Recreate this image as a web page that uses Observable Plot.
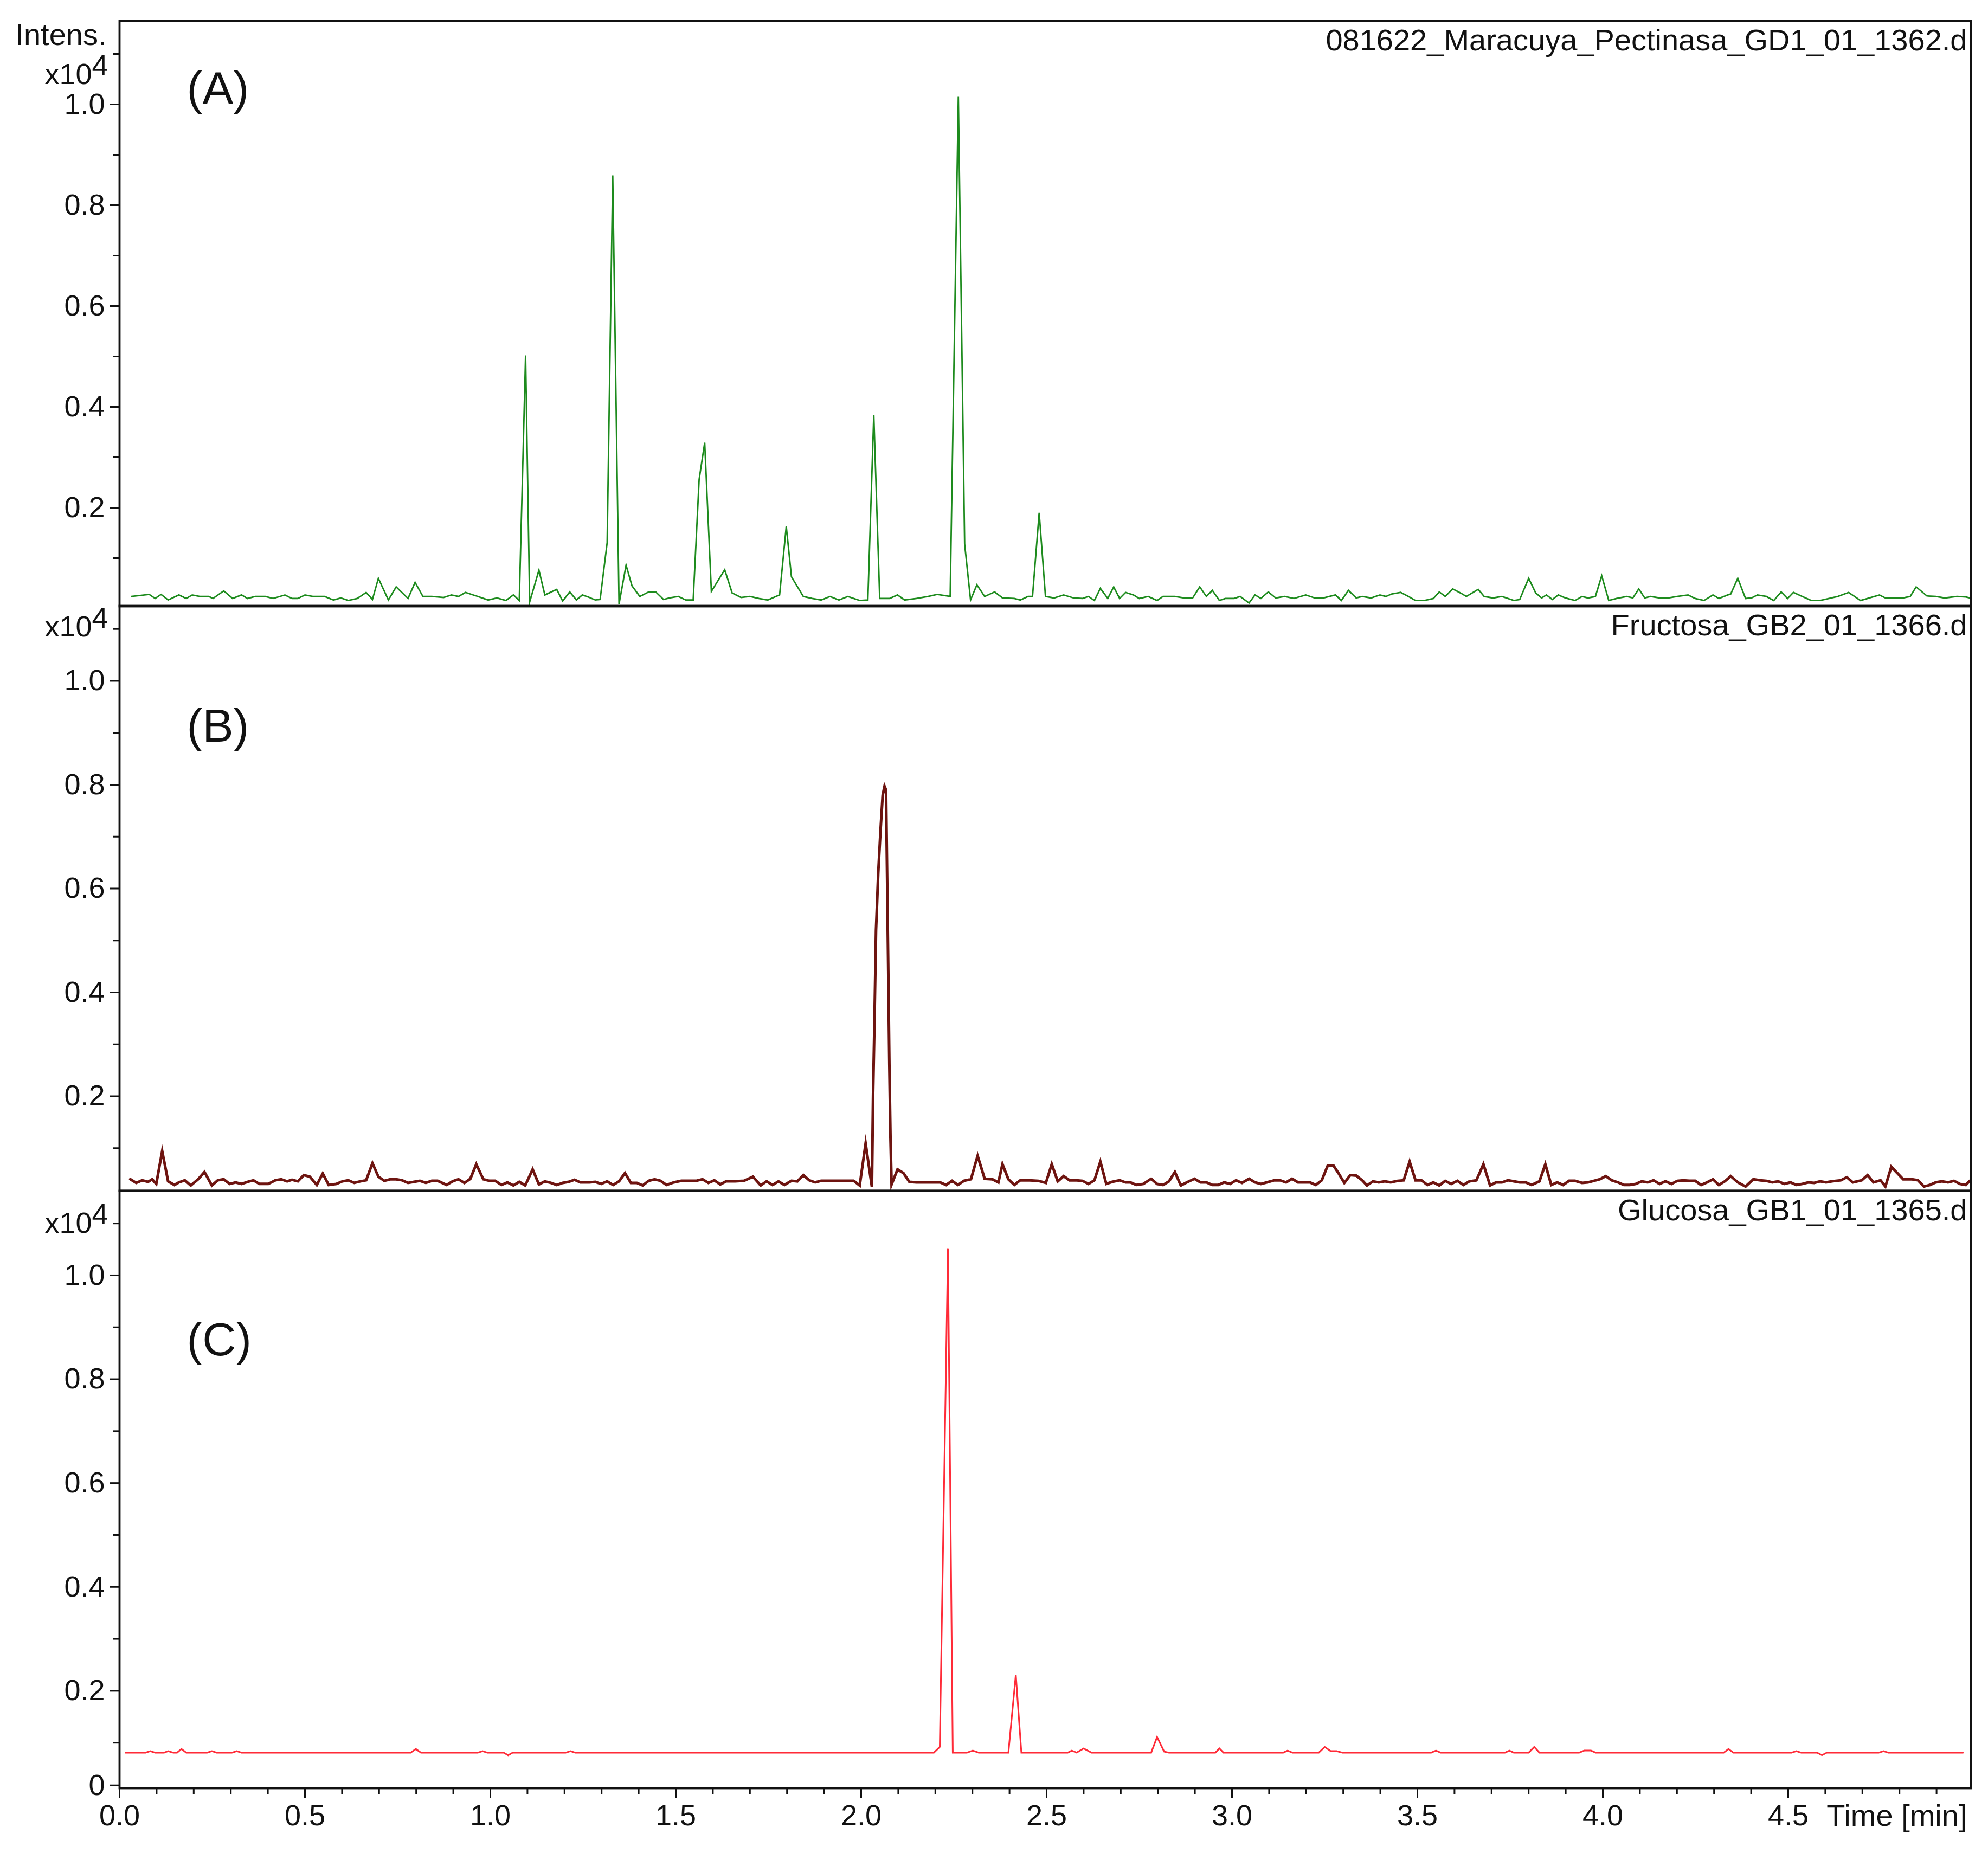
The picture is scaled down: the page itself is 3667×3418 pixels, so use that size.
<!DOCTYPE html>
<html><head><meta charset="utf-8">
<script src="https://cdn.jsdelivr.net/npm/d3@7"></script>
<script src="https://cdn.jsdelivr.net/npm/@observablehq/plot@0.6"></script>
<style>
body{margin:0;background:#fff;}
#chart{position:relative;width:3667px;height:3418px;overflow:hidden;background:#fff;}
#chart svg{position:absolute;left:0;}
</style></head><body><div id="chart"></div>
<script>
// ---------- DATA ----------
const timeA = [0.032,0.080,0.096,0.112,0.131,0.160,0.180,0.196,0.216,0.241,0.252,0.281,0.305,0.329,0.345,0.366,0.393,0.414,0.446,0.465,0.481,0.500,0.521,0.553,0.577,0.597,0.617,0.641,0.665,0.682,0.698,0.725,0.746,0.778,0.797,0.818,0.842,0.874,0.895,0.914,0.933,0.962,0.994,1.018,1.042,1.062,1.078,1.095,1.106,1.131,1.147,1.179,1.195,1.214,1.232,1.248,1.267,1.283,1.296,1.315,1.330,1.347,1.366,1.382,1.403,1.427,1.446,1.467,1.483,1.507,1.527,1.547,1.563,1.578,1.596,1.632,1.652,1.676,1.700,1.724,1.748,1.780,1.798,1.812,1.844,1.868,1.892,1.916,1.940,1.964,1.996,2.018,2.034,2.050,2.077,2.098,2.117,2.149,2.181,2.205,2.240,2.262,2.279,2.295,2.312,2.333,2.360,2.381,2.413,2.429,2.450,2.462,2.480,2.497,2.520,2.546,2.573,2.597,2.613,2.629,2.645,2.665,2.681,2.697,2.713,2.734,2.750,2.774,2.798,2.814,2.846,2.870,2.894,2.913,2.931,2.947,2.966,2.982,3.006,3.022,3.046,3.062,3.078,3.098,3.118,3.142,3.167,3.199,3.223,3.247,3.279,3.295,3.314,3.335,3.351,3.375,3.399,3.415,3.431,3.455,3.476,3.495,3.519,3.543,3.559,3.575,3.595,3.616,3.632,3.664,3.680,3.704,3.728,3.760,3.776,3.800,3.819,3.835,3.848,3.864,3.880,3.899,3.925,3.944,3.960,3.980,3.997,4.016,4.037,4.065,4.081,4.097,4.113,4.129,4.153,4.177,4.201,4.230,4.249,4.273,4.297,4.313,4.337,4.345,4.364,4.385,4.401,4.417,4.441,4.461,4.481,4.498,4.514,4.538,4.562,4.586,4.610,4.634,4.663,4.695,4.719,4.746,4.762,4.786,4.810,4.829,4.845,4.874,4.898,4.922,4.955,4.979,4.990];
const intA = [0.024,0.028,0.020,0.028,0.017,0.027,0.020,0.027,0.024,0.024,0.020,0.035,0.020,0.027,0.020,0.024,0.024,0.020,0.027,0.020,0.020,0.027,0.024,0.024,0.017,0.021,0.016,0.020,0.032,0.018,0.060,0.017,0.043,0.020,0.052,0.024,0.024,0.022,0.027,0.024,0.032,0.025,0.017,0.021,0.016,0.027,0.016,0.502,0.013,0.076,0.027,0.038,0.015,0.033,0.017,0.027,0.022,0.017,0.018,0.131,0.859,0.009,0.086,0.045,0.024,0.033,0.033,0.018,0.021,0.024,0.017,0.017,0.256,0.329,0.034,0.077,0.031,0.022,0.024,0.020,0.017,0.027,0.163,0.063,0.024,0.020,0.017,0.024,0.017,0.024,0.016,0.017,0.384,0.020,0.020,0.027,0.017,0.020,0.024,0.028,0.024,1.015,0.128,0.017,0.047,0.024,0.033,0.021,0.020,0.017,0.024,0.024,0.190,0.024,0.021,0.027,0.021,0.020,0.024,0.016,0.040,0.020,0.043,0.020,0.032,0.027,0.020,0.024,0.016,0.024,0.024,0.021,0.021,0.043,0.024,0.036,0.016,0.020,0.020,0.024,0.011,0.027,0.020,0.033,0.021,0.024,0.020,0.027,0.021,0.021,0.027,0.016,0.036,0.021,0.024,0.021,0.027,0.024,0.029,0.032,0.024,0.016,0.016,0.020,0.033,0.024,0.039,0.031,0.024,0.038,0.024,0.021,0.024,0.016,0.018,0.060,0.031,0.021,0.027,0.018,0.027,0.021,0.016,0.024,0.021,0.024,0.065,0.016,0.020,0.024,0.021,0.039,0.021,0.024,0.021,0.021,0.024,0.027,0.020,0.016,0.027,0.020,0.027,0.029,0.060,0.020,0.021,0.027,0.024,0.016,0.033,0.020,0.032,0.024,0.016,0.016,0.020,0.024,0.032,0.016,0.021,0.027,0.021,0.021,0.021,0.024,0.043,0.025,0.024,0.021,0.024,0.023,0.021];

const timeB = [0.029,0.045,0.061,0.077,0.088,0.099,0.115,0.131,0.148,0.160,0.176,0.192,0.212,0.229,0.249,0.265,0.281,0.297,0.313,0.329,0.345,0.361,0.377,0.401,0.420,0.436,0.452,0.465,0.481,0.497,0.513,0.532,0.548,0.564,0.585,0.601,0.617,0.633,0.649,0.665,0.682,0.698,0.714,0.730,0.746,0.762,0.778,0.794,0.810,0.826,0.842,0.858,0.882,0.898,0.914,0.930,0.946,0.962,0.981,0.997,1.013,1.030,1.046,1.062,1.078,1.094,1.114,1.131,1.147,1.163,1.179,1.195,1.211,1.227,1.243,1.267,1.283,1.299,1.315,1.331,1.347,1.363,1.379,1.395,1.411,1.427,1.443,1.459,1.475,1.495,1.515,1.539,1.555,1.572,1.588,1.604,1.620,1.636,1.660,1.684,1.708,1.729,1.745,1.761,1.777,1.793,1.812,1.828,1.844,1.860,1.876,1.892,1.924,1.956,1.980,1.996,2.012,2.029,2.032,2.036,2.040,2.046,2.052,2.058,2.063,2.067,2.070,2.073,2.076,2.079,2.082,2.098,2.114,2.130,2.149,2.181,2.213,2.229,2.245,2.261,2.277,2.296,2.314,2.333,2.354,2.370,2.381,2.397,2.413,2.429,2.454,2.478,2.498,2.514,2.530,2.546,2.562,2.581,2.597,2.613,2.629,2.645,2.661,2.677,2.697,2.713,2.726,2.742,2.761,2.782,2.798,2.814,2.830,2.846,2.862,2.878,2.899,2.915,2.931,2.947,2.963,2.979,2.995,3.011,3.027,3.046,3.062,3.078,3.094,3.114,3.130,3.146,3.162,3.178,3.194,3.210,3.226,3.242,3.258,3.274,3.287,3.303,3.319,3.335,3.351,3.364,3.380,3.396,3.412,3.428,3.447,3.463,3.479,3.495,3.511,3.527,3.543,3.559,3.575,3.591,3.608,3.624,3.640,3.659,3.678,3.696,3.712,3.728,3.744,3.760,3.776,3.792,3.808,3.829,3.845,3.861,3.877,3.893,3.909,3.925,3.944,3.960,3.976,3.992,4.008,4.024,4.041,4.057,4.073,4.089,4.105,4.121,4.137,4.153,4.169,4.185,4.201,4.217,4.233,4.249,4.265,4.281,4.297,4.313,4.329,4.345,4.364,4.385,4.406,4.425,4.441,4.457,4.473,4.489,4.506,4.522,4.538,4.554,4.570,4.586,4.602,4.618,4.642,4.658,4.674,4.698,4.714,4.730,4.749,4.762,4.778,4.794,4.810,4.834,4.850,4.866,4.882,4.898,4.914,4.931,4.947,4.963,4.979,4.990];
const intB = [0.040,0.033,0.038,0.035,0.040,0.031,0.094,0.036,0.029,0.034,0.038,0.028,0.040,0.054,0.028,0.038,0.040,0.031,0.034,0.031,0.035,0.038,0.031,0.031,0.038,0.040,0.036,0.039,0.036,0.048,0.045,0.029,0.051,0.029,0.031,0.036,0.038,0.033,0.036,0.038,0.071,0.045,0.037,0.040,0.040,0.038,0.033,0.035,0.037,0.033,0.037,0.037,0.029,0.036,0.040,0.033,0.041,0.069,0.040,0.037,0.037,0.029,0.034,0.028,0.035,0.028,0.059,0.030,0.036,0.033,0.029,0.033,0.035,0.039,0.034,0.034,0.035,0.031,0.036,0.029,0.036,0.052,0.033,0.033,0.028,0.037,0.040,0.037,0.029,0.034,0.037,0.037,0.037,0.040,0.033,0.038,0.030,0.036,0.036,0.037,0.045,0.028,0.036,0.029,0.036,0.029,0.037,0.036,0.048,0.038,0.034,0.037,0.037,0.037,0.037,0.028,0.109,0.025,0.200,0.350,0.520,0.630,0.710,0.780,0.797,0.790,0.620,0.440,0.260,0.120,0.030,0.059,0.052,0.035,0.034,0.034,0.034,0.029,0.037,0.029,0.037,0.040,0.085,0.041,0.040,0.034,0.069,0.040,0.029,0.038,0.038,0.037,0.033,0.069,0.036,0.046,0.038,0.038,0.037,0.031,0.038,0.074,0.031,0.035,0.038,0.034,0.034,0.029,0.031,0.041,0.031,0.029,0.036,0.054,0.028,0.034,0.041,0.034,0.034,0.029,0.029,0.034,0.031,0.038,0.033,0.041,0.034,0.031,0.034,0.038,0.038,0.034,0.041,0.034,0.034,0.034,0.029,0.038,0.066,0.066,0.052,0.033,0.048,0.047,0.038,0.028,0.036,0.034,0.036,0.034,0.037,0.038,0.074,0.038,0.038,0.029,0.034,0.028,0.037,0.031,0.037,0.029,0.036,0.038,0.069,0.028,0.034,0.034,0.038,0.036,0.034,0.034,0.029,0.036,0.069,0.029,0.034,0.029,0.037,0.037,0.033,0.034,0.037,0.040,0.046,0.038,0.034,0.029,0.029,0.031,0.036,0.034,0.038,0.031,0.036,0.031,0.037,0.038,0.037,0.037,0.029,0.034,0.040,0.029,0.036,0.046,0.034,0.026,0.040,0.038,0.037,0.034,0.036,0.031,0.034,0.029,0.031,0.034,0.033,0.036,0.034,0.036,0.038,0.044,0.034,0.038,0.048,0.034,0.038,0.026,0.064,0.052,0.040,0.040,0.038,0.026,0.029,0.034,0.036,0.034,0.037,0.031,0.029,0.037];

const timeC = [0.016,0.070,0.083,0.096,0.120,0.131,0.145,0.155,0.167,0.180,0.236,0.249,0.262,0.303,0.316,0.329,0.785,0.799,0.813,0.966,0.979,0.992,1.036,1.048,1.060,1.203,1.216,1.229,2.196,2.212,2.234,2.247,2.285,2.301,2.317,2.397,2.417,2.432,2.557,2.568,2.581,2.600,2.621,2.782,2.798,2.817,2.830,2.955,2.966,2.977,3.138,3.150,3.163,3.234,3.250,3.266,3.282,3.298,3.537,3.550,3.563,3.736,3.748,3.760,3.800,3.815,3.829,3.936,3.950,3.968,3.981,4.326,4.339,4.352,4.509,4.522,4.535,4.578,4.591,4.604,4.744,4.757,4.770,4.971];
const intC = [0.081,0.081,0.084,0.081,0.081,0.084,0.081,0.081,0.088,0.081,0.081,0.084,0.081,0.081,0.084,0.081,0.081,0.088,0.081,0.081,0.084,0.081,0.081,0.076,0.081,0.081,0.084,0.081,0.081,0.092,1.052,0.081,0.081,0.085,0.081,0.081,0.231,0.081,0.081,0.085,0.081,0.089,0.081,0.081,0.111,0.083,0.081,0.081,0.089,0.081,0.081,0.085,0.081,0.081,0.092,0.084,0.084,0.081,0.081,0.085,0.081,0.081,0.085,0.081,0.081,0.092,0.081,0.081,0.085,0.085,0.081,0.081,0.088,0.081,0.081,0.084,0.081,0.081,0.076,0.081,0.081,0.084,0.081,0.081];

const fileNames = ["081622_Maracuya_Pectinasa_GD1_01_1362.d", "Fructosa_GB2_01_1366.d", "Glucosa_GB1_01_1365.d"];
const panelLetters = ["(A)", "(B)", "(C)"];
const lineColors = ["#1d8b1d", "#6e1410", "#ff2b38"];
const yLabelTicks = [0.2, 0.4, 0.6, 0.8, 1.0];
const yMinorTicks = [0.1, 0.3, 0.5, 0.7, 0.9, 1.1];
const zeroTickC = [0.018];
const xLabelTicks = [0.0, 0.5, 1.0, 1.5, 2.0, 2.5, 3.0, 3.5, 4.0, 4.5];
const xMinorTicks = [0.1,0.2,0.3,0.4,0.6,0.7,0.8,0.9,1.1,1.2,1.3,1.4,1.6,1.7,1.8,1.9,2.1,2.2,2.3,2.4,2.6,2.7,2.8,2.9,3.1,3.2,3.3,3.4,3.6,3.7,3.8,3.9,4.1,4.2,4.3,4.4,4.6,4.7,4.8,4.9];
const xTitle = "Time [min]";
const yTitle = "Intens.";
const yExpBase = "x10";
const yExpPow = "4";

// ---------- LAYOUT ----------
const FONT = "'Liberation Sans', Arial, Helvetica, sans-serif";
const FS = 54;
const panels = [
  {t: timeA, v: intA, top: 0, height: 1120, mt: 38, mb: 2, dom: [0.0043, 1.1656], sw: 2.8, letterDy: 126, expDy: 99, title: true, xaxis: false},
  {t: timeB, v: intB, top: 1100, height: 1100, mt: 17, mb: 4, dom: [0.0178, 1.1446], sw: 5, letterDy: 223, expDy: 39, title: false, xaxis: false},
  {t: timeC, v: intC, top: 2180, height: 1238, mt: 16, mb: 120, dom: [0.0125, 1.1628], sw: 3, letterDy: 276, expDy: 60, title: false, xaxis: true}
];

const chart = document.getElementById("chart");
panels.forEach((p, i) => {
  const marks = [
    Plot.line(p.t, {x: p.t, y: p.v, stroke: lineColors[i], strokeWidth: p.sw, strokeLinejoin: "miter", strokeMiterlimit: 8}),
    Plot.frame({stroke: "#111", strokeWidth: 3.8}),
    Plot.axisY({ticks: yMinorTicks, tickSize: 12, tickFormat: () => "", strokeWidth: 3, label: null}),
    Plot.axisY({ticks: i === 2 ? zeroTickC.concat(yLabelTicks) : yLabelTicks, tickSize: 17, tickPadding: 10, strokeWidth: 3,
      tickFormat: d => d < 0.05 ? "0" : d.toFixed(1), fontSize: FS, fill: "#111", label: null}),
    Plot.text([fileNames[i]], {text: d => d, frameAnchor: "top-right", dx: -7, dy: 37, textAnchor: "end", lineAnchor: "middle", fontSize: 56, fill: "#111"}),
    Plot.text([panelLetters[i]], {text: d => d, frameAnchor: "top-left", dx: 124, dy: p.letterDy, textAnchor: "start", lineAnchor: "middle", fontSize: 86, fill: "#111"}),
    Plot.text([yExpBase], {text: d => d, frameAnchor: "top-left", dx: -51, dy: p.expDy, textAnchor: "end", lineAnchor: "middle", fontSize: FS, fill: "#111"}),
    Plot.text([yExpPow], {text: d => d, frameAnchor: "top-left", dx: -21, dy: p.expDy - 16, textAnchor: "end", lineAnchor: "middle", fontSize: FS, fill: "#111"})
  ];
  if (p.title) {
    marks.push(Plot.text([yTitle], {text: d => d, frameAnchor: "top-left", dx: -24, dy: 27, textAnchor: "end", lineAnchor: "middle", fontSize: 56, fill: "#111"}));
  }
  if (p.xaxis) {
    marks.push(Plot.axisX({ticks: xMinorTicks, tickSize: 12, tickFormat: () => "", strokeWidth: 3, label: null}));
    marks.push(Plot.axisX({ticks: xLabelTicks, tickSize: 18, tickPadding: 12, strokeWidth: 3, tickFormat: d => d.toFixed(1), fontSize: FS, fill: "#111", label: null}));
    marks.push(Plot.text([xTitle], {text: d => d, frameAnchor: "bottom-right", dx: -7, dy: 52, textAnchor: "end", lineAnchor: "middle", fontSize: 56, fill: "#111"}));
  }
  const svg = Plot.plot({
    width: 3667,
    height: p.height,
    marginLeft: 220,
    marginRight: 32,
    marginTop: p.mt,
    marginBottom: p.mb,
    x: {domain: [0, 4.9927], axis: p.xaxis ? undefined : null},
    y: {domain: p.dom},
    style: {background: "transparent", overflow: "visible", fontFamily: FONT, fontSize: FS + "px", color: "#111"},
    marks
  });
  svg.style.top = p.top + "px";
  chart.appendChild(svg);
});
</script></body></html>
